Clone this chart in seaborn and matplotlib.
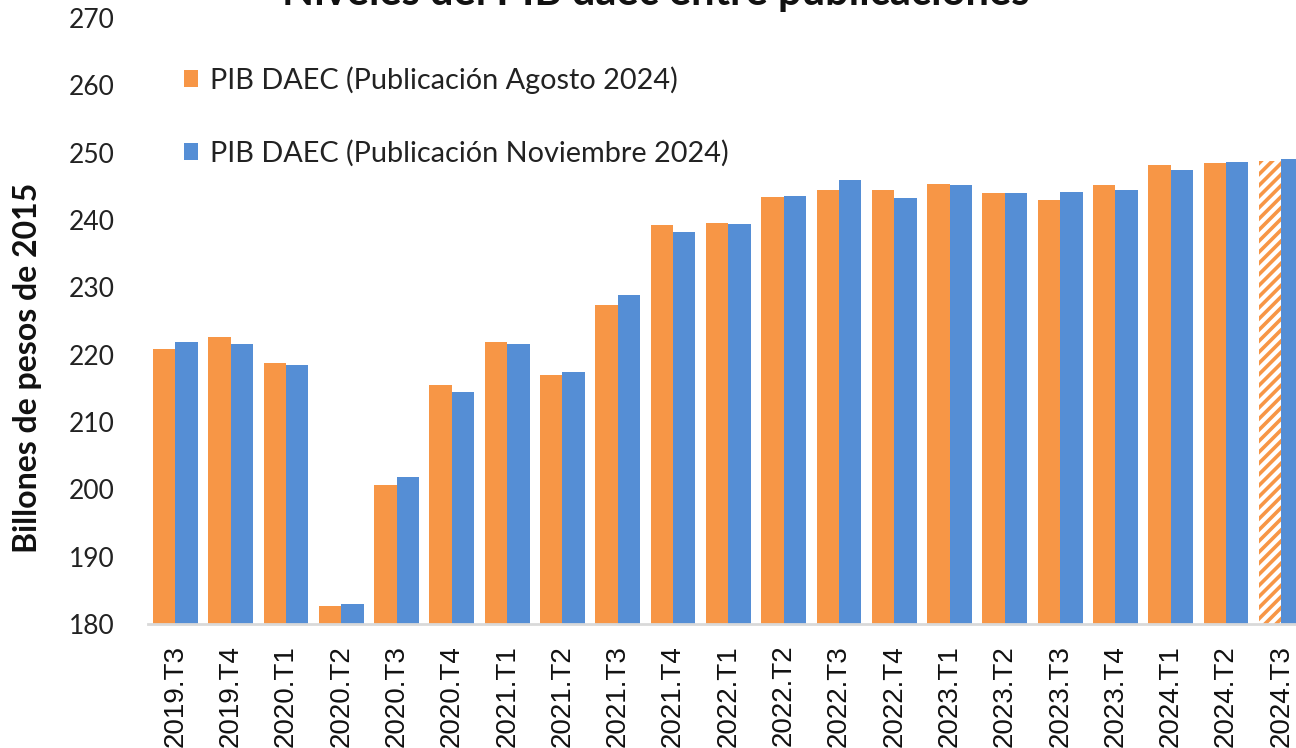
import matplotlib
matplotlib.use("Agg")
import matplotlib.pyplot as plt
import pandas as pd
import seaborn as sns

# valores (billones de pesos de 2015)
periodos = ['2019.T3', '2019.T4', '2020.T1', '2020.T2', '2020.T3', '2020.T4',
            '2021.T1', '2021.T2', '2021.T3', '2021.T4', '2022.T1', '2022.T2',
            '2022.T3', '2022.T4', '2023.T1', '2023.T2', '2023.T3', '2023.T4',
            '2024.T1', '2024.T2', '2024.T3']
pib_agosto = [220.9, 222.6, 218.7, 182.7, 200.7, 215.5,
              221.9, 217.0, 227.4, 239.3, 239.6, 243.4,
              244.5, 244.5, 245.4, 244.0, 243.0, 245.2,
              248.1, 248.4, 248.8]
pib_noviembre = [221.9, 221.6, 218.4, 182.9, 201.9, 214.4,
                 221.6, 217.4, 228.9, 238.2, 239.4, 243.6,
                 245.9, 243.3, 245.2, 244.0, 244.2, 244.4,
                 247.4, 248.6, 249.0]
series = ['PIB DAEC (Publicación Agosto 2024)', 'PIB DAEC (Publicación Noviembre 2024)']
yticks = list(range(180, 271, 10))

ORANGE = '#F79646'
BLUE = '#558ED5'

df = pd.DataFrame({
    'periodo': periodos * 2,
    'valor': pib_agosto + pib_noviembre,
    'serie': [series[0]] * len(periodos) + [series[1]] * len(periodos),
})

sns.set_theme(style="white")
plt.rcParams['font.family'] = ['Lato', 'DejaVu Sans']
plt.rcParams['hatch.linewidth'] = 2.6

fig = plt.figure(figsize=(12.96, 7.48), dpi=100)
ax = fig.add_axes([0.114, 0.1658, 0.896, 0.8102])

sns.barplot(data=df, x='periodo', y='valor', hue='serie', palette=[ORANGE, BLUE],
            width=0.81, saturation=1, ax=ax, linewidth=0)

# ultimo trimestre de agosto: barra rayada (proyeccion)
last = ax.containers[0][len(periodos) - 1]
last.set_facecolor('white')
last.set_edgecolor(ORANGE)
last.set_linewidth(0)
last.set_hatch('///')

ax.set_ylim(180, 270)
ax.set_yticks(yticks)
ax.set_xlabel('')
ax.set_ylabel('')
for s in ['left', 'right', 'top']:
    ax.spines[s].set_visible(False)
ax.spines['bottom'].set_color('#D9D9D9')
ax.spines['bottom'].set_linewidth(2)
ax.tick_params(axis='y', length=0, pad=24, labelsize=19, labelcolor='#222222')
ax.tick_params(axis='x', length=0, pad=15, labelsize=20, labelcolor='#111111')
for lbl in ax.get_xticklabels():
    lbl.set_rotation(90)
    lbl.set_family(['Liberation Sans', 'DejaVu Sans'])
    lbl.set_va('top')

sns.move_legend(ax, loc='upper left', bbox_to_anchor=(184 / 1296, 1 - 66 / 748),
                bbox_transform=fig.transFigure, title=None, frameon=False,
                fontsize=20.8, handlelength=0.5, handleheight=0.5,
                handletextpad=0.4, labelspacing=1.6, borderpad=0, borderaxespad=0)
for t in ax.get_legend().get_texts():
    t.set_color('#222222')

fig.text(28 / 1296, 1 - 368 / 748, 'Billones de pesos de 2015', rotation=90,
         ha='center', va='center', fontsize=23, fontweight='bold', color='#111111')
fig.text(656 / 1296, 1 - 5 / 748, 'Niveles del PIB daec entre publicaciones',
         ha='center', va='baseline', fontsize=30, fontweight='bold', color='#111111')

fig.savefig('out.png', dpi=100)
